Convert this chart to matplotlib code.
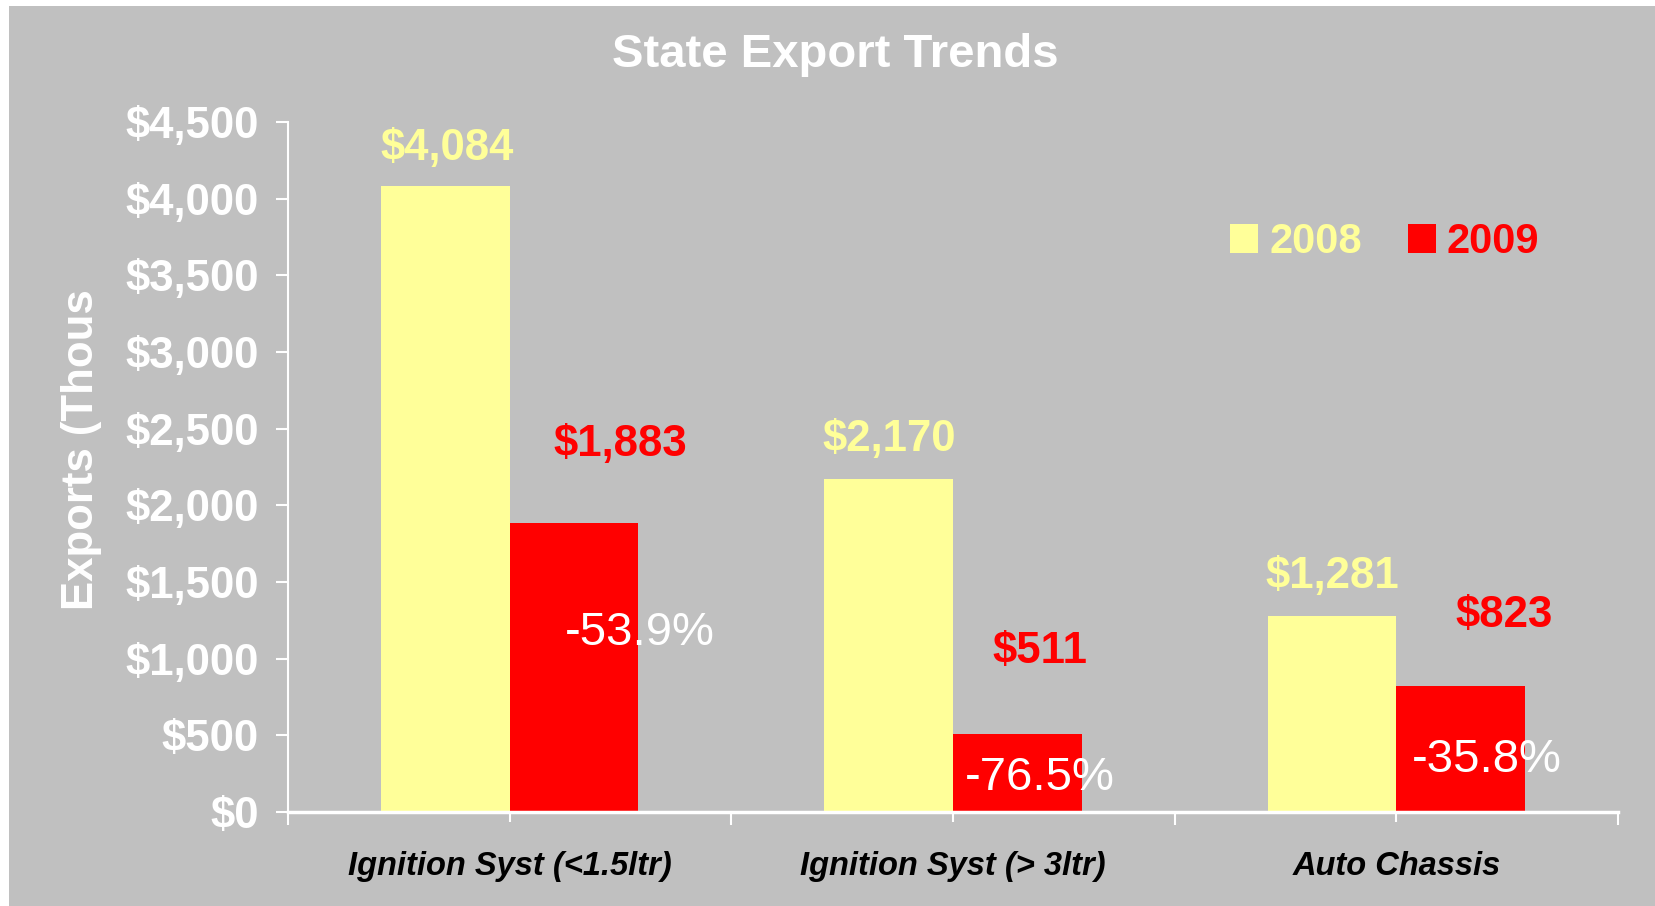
import matplotlib
matplotlib.use("Agg")
import matplotlib.pyplot as plt
import numpy as np
from matplotlib.patches import Patch, Rectangle

# data
categories = ["Ignition Syst (<1.5ltr)", "Ignition Syst (> 3ltr)", "Auto Chassis"]
series_names = ["2008", "2009"]
exports_2008 = [4084, 2170, 1281]
exports_2009 = [1883, 511, 823]
pct_change = ["-53.9%", "-76.5%", "-35.8%"]
y_ticks = [0, 500, 1000, 1500, 2000, 2500, 3000, 3500, 4000, 4500]

# label placement (hand-moved in the original chart), data units
lab08_dx = [-0.142, -0.144, -0.144]
lab08_y = [4325, 2427, 1533]
lab09_dx = [0.25, 0.196, 0.243]
lab09_y = [2394, 1044, 1279]
pct_dx = [0.293, 0.196, 0.205]
pct_y = [1168, 222, 340]

YELLOW = "#FFFF99"
RED = "#FF0000"
BG = "#C0C0C0"
FONT = "Liberation Sans"

fig = plt.figure(figsize=(16.55, 9.06), dpi=100, facecolor="white")
fig.patches.append(Rectangle((9 / 1655, 0), 1, 900 / 906, transform=fig.transFigure,
                             facecolor=BG, edgecolor="none", zorder=-10))

ax = fig.add_axes([288 / 1655, 94 / 906, 1330 / 1655, 690 / 906])
ax.set_facecolor("none")

x = np.arange(len(categories))
w = 0.29
ax.bar(x - w / 2, exports_2008, width=w, color=YELLOW, label=series_names[0], zorder=2)
ax.bar(x + w / 2, exports_2009, width=w, color=RED, label=series_names[1], zorder=2)

ax.set_xlim(-0.5, len(categories) - 0.5)
ax.set_ylim(0, 4500)

for s in ["top", "right"]:
    ax.spines[s].set_visible(False)
ax.spines["left"].set_color("white")
ax.spines["left"].set_linewidth(1.5)
ax.spines["bottom"].set_color("white")
ax.spines["bottom"].set_linewidth(2.5)
ax.spines["bottom"].set_zorder(3)

ax.set_yticks(y_ticks)
ax.set_yticklabels([f"${v:,.0f}" for v in y_ticks], fontfamily=FONT,
                   fontweight="bold", fontsize=31.5, color="white")
ax.tick_params(axis="y", colors="white", length=9, width=1.5, pad=12)

ax.set_xticks(x)
ax.set_xticklabels(categories, fontfamily=FONT, fontweight="bold", fontstyle="italic",
                   fontsize=23.5, color="black")
ax.tick_params(axis="x", which="major", direction="inout", length=14, width=1.5,
               colors="white", labelcolor="black", pad=21)
ax.set_xticks(np.arange(-0.5, len(categories), 1.0), minor=True)
ax.tick_params(axis="x", which="minor", direction="out", length=9, width=1.5, colors="white")

# value labels
for i in range(len(categories)):
    ax.text(x[i] + lab08_dx[i], lab08_y[i], f"${exports_2008[i]:,}", ha="center", va="center",
            fontfamily=FONT, fontweight="bold", fontsize=31.5, color=YELLOW, zorder=4)
    ax.text(x[i] + lab09_dx[i], lab09_y[i], f"${exports_2009[i]:,}", ha="center", va="center",
            fontfamily=FONT, fontweight="bold", fontsize=31.5, color=RED, zorder=4)
    ax.text(x[i] + pct_dx[i], pct_y[i], pct_change[i], ha="center", va="center",
            fontfamily=FONT, fontsize=34, color="white", zorder=4)

fig.text(835 / 1655, 1 - 55 / 906, "State Export Trends", ha="center", va="center",
         fontfamily=FONT, fontweight="bold", fontsize=34, color="white")
fig.text(82 / 1655, 1 - 450 / 906, "Exports (Thous", ha="center", va="center", rotation=90,
         fontfamily=FONT, fontweight="bold", fontsize=31.5, color="white")

handles = [Patch(facecolor=YELLOW, edgecolor="none"), Patch(facecolor=RED, edgecolor="none")]
fig.legend(handles, series_names, loc="center left", bbox_to_anchor=(1230 / 1655, 1 - 242 / 906),
           ncol=2, frameon=False, borderpad=0, borderaxespad=0, handlelength=0.68,
           handleheight=0.68, handletextpad=0.26, columnspacing=1.1, labelcolor=[YELLOW, RED],
           prop={"family": FONT, "weight": "bold", "size": 30})

fig.savefig("out.png", dpi=100, facecolor=fig.get_facecolor())
plt.close(fig)
